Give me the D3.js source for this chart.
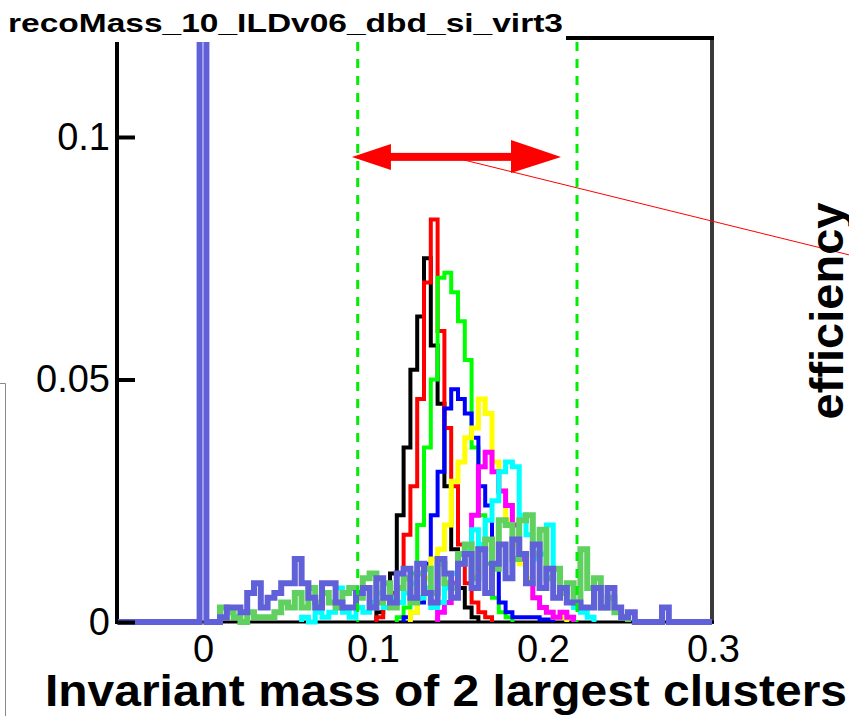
<!DOCTYPE html>
<html>
<head>
<meta charset="utf-8">
<script src="https://cdn.jsdelivr.net/npm/d3@7"></script>
<style>
  body { margin: 0; background: #fff; }
  svg { display: block; font-family: "Liberation Sans", Arial, sans-serif; }
</style>
</head>
<body>
<div id="chart"></div>
<script>
// histogram bins: width 0.004, each series = first bin centre + list of contents
const binWidth = 0.004;

const blackStart = 0.104;
const blackVals = [0.002, 0.005, 0.010, 0.022, 0.036, 0.052, 0.063, 0.075, 0.057, 0.045, 0.028, 0.015, 0.007, 0.003, 0.001];

const redStart = 0.104;
const redVals = [0.001, 0.003, 0.006, 0.010, 0.018, 0.028, 0.046, 0.070, 0.083, 0.060, 0.040, 0.028, 0.016, 0.008, 0.004, 0.002, 0.001];

const greenStart = 0.116;
const greenVals = [0.001, 0.003, 0.010, 0.020, 0.036, 0.050, 0.071, 0.072, 0.068, 0.062, 0.054, 0.036, 0.022, 0.012, 0.005, 0.002, 0.001];

const blueStart = 0.120;
const blueVals = [0.001, 0.002, 0.004, 0.012, 0.022, 0.031, 0.044, 0.048, 0.046, 0.043, 0.038, 0.028, 0.024, 0.012, 0.004, 0.002, 0.001, 0.001, 0.001, 0.001, 0.0005, 0.0005];

const yellowStart = 0.124;
const yellowVals = [0.002, 0.005, 0.009, 0.013, 0.015, 0.020, 0.029, 0.033, 0.038, 0.040, 0.046, 0.043, 0.033, 0.027, 0.021, 0.016, 0.012, 0.009, 0.005, 0.003, 0.002, 0.001, 0.001];

const magentaStart = 0.140;
const magentaVals = [0.002, 0.004, 0.008, 0.012, 0.016, 0.022, 0.032, 0.035, 0.031, 0.027, 0.024, 0.020, 0.013, 0.008, 0.005, 0.003, 0.002, 0.001, 0.002, 0.001];

const cyanStart = 0.060;
const cyanVals = [0.001, 0.000, 0.002, 0.001, 0.002, 0.007, 0.002, 0.001, 0.003, 0.002, 0.004, 0.006, 0.003, 0.005, 0.004, 0.006, 0.008, 0.005, 0.007,
  0.003, 0.004, 0.007, 0.010, 0.012, 0.015, 0.019, 0.016, 0.021, 0.025, 0.031, 0.033, 0.032, 0.022, 0.018, 0.013, 0.014, 0.020, 0.011, 0.007, 0.004, 0.003, 0.002, 0.001];

const lgreenStart = 0.012;
const lgreenVals = [0.003, 0.002, 0.001, 0, 0.002, 0.001, 0.001, 0.001, 0.002, 0.004,
  0.003, 0.006, 0.003, 0.007, 0.004, 0.006, 0.004, 0.003, 0.006, 0.007,
  0.005, 0.009, 0.010, 0.004, 0.008, 0.003, 0.007, 0.009, 0.004, 0.010,
  0.011, 0.006, 0.012, 0.008, 0.007, 0.014, 0.016, 0.009, 0.015, 0.017,
  0.011, 0.021, 0.020, 0.013, 0.021, 0.022, 0.014, 0.019, 0.009, 0.011,
  0.006, 0.008, 0.004, 0.015, 0.007, 0.009, 0.003, 0.005, 0.002, 0.001];

const purpleStart = 0.000;
const purpleVals = [0.5, 0, 0, 0.001, 0.003, 0.003, 0.002, 0.006, 0.008, 0.003,
  0.005, 0.006, 0.008, 0.008, 0.013, 0.008, 0.005, 0.003, 0.008, 0.008,
  0.004, 0.003, 0.003, 0.006, 0.007, 0.003, 0.009, 0.005, 0.004, 0.010,
  0.011, 0.005, 0.012, 0.006, 0.004, 0.013, 0.010, 0.005, 0.012, 0.014,
  0.007, 0.015, 0.006, 0.012, 0.016, 0.009, 0.017, 0.014, 0.008, 0.016,
  0.007, 0.011, 0.005, 0.007, 0.004, 0.004, 0.003, 0.003, 0.007, 0.003,
  0.007, 0.003, 0.001, 0.002, 0, 0, 0, 0, 0.003];

const xTicks = [0, 0.1, 0.2, 0.3];
const yTicks = [0, 0.05, 0.1];
const cuts = [0.091, 0.22];
const arrowSpan = [0.0876, 0.2106], arrowLevel = 0.0959;
const linkFrom = [0.153, 0.0953], linkTo = [0.380, 0.0757];

const title = "recoMass_10_ILDv06_dbd_si_virt3";
const xTitle = "Invariant mass of 2 largest clusters";
const sideTitle = "efficiency";

let W = 849, H = 716;
let frame = {left: 118, right: 713, top: 38, bottom: 622};

let x = d3.scaleLinear().domain([-0.05, 0.3]).range([frame.left, frame.right]);
let y = d3.scaleLinear().domain([0, 0.12041]).range([frame.bottom, frame.top]);

let svg = d3.select("#chart").append("svg")
    .attr("width", W).attr("height", H);

svg.append("defs").append("clipPath").attr("id", "plotclip")
  .append("rect")
    .attr("x", frame.left).attr("y", frame.top)
    .attr("width", 712 - frame.left).attr("height", frame.bottom - frame.top + 3);

// frame
svg.append("line").attr("x1", 117).attr("x2", 117).attr("y1", frame.top).attr("y2", frame.bottom + 2)
    .attr("stroke", "#000").attr("stroke-width", 4);
svg.append("line").attr("x1", 712).attr("x2", 712).attr("y1", frame.top - 2).attr("y2", frame.bottom + 2)
    .attr("stroke", "#3a3a3a").attr("stroke-width", 4);
svg.append("line").attr("x1", 117).attr("x2", 714).attr("y1", frame.top).attr("y2", frame.top)
    .attr("stroke", "#000").attr("stroke-width", 4);
svg.append("line").attr("x1", 117).attr("x2", 714).attr("y1", frame.bottom).attr("y2", frame.bottom)
    .attr("stroke", "#000").attr("stroke-width", 3);

let stepPoints = function(start, vals, full) {
    let pts = [];
    let first = start - binWidth / 2;
    let last = start + (vals.length - 1) * binWidth + binWidth / 2;
    if (full) pts.push([x.domain()[0], 0]);
    pts.push([first, 0]);
    vals.forEach((v, i) => {
        let c = start + i * binWidth;
        pts.push([c - binWidth / 2, v]);
        pts.push([c + binWidth / 2, v]);
    });
    pts.push([last, 0]);
    if (full) pts.push([x.domain()[1], 0]);
    return pts;
};

let line = d3.line().x(d => x(d[0])).y(d => y(d[1]));

let series = [
    {start: blackStart, vals: blackVals, color: "#000000", w: 4},
    {start: redStart, vals: redVals, color: "#ff0000", w: 4},
    {start: greenStart, vals: greenVals, color: "#00ff00", w: 4},
    {start: blueStart, vals: blueVals, color: "#0000ff", w: 4},
    {start: yellowStart, vals: yellowVals, color: "#ffff00", w: 5},
    {start: magentaStart, vals: magentaVals, color: "#ff00ff", w: 5},
    {start: cyanStart, vals: cyanVals, color: "#00ffff", w: 5},
    {start: lgreenStart, vals: lgreenVals, color: "#60d060", w: 6},
    {start: purpleStart, vals: purpleVals, color: "#6060d8", w: 6, full: true}
];

let plot = svg.append("g").attr("clip-path", "url(#plotclip)");
plot.selectAll("path.hist")
    .data(series)
    .enter()
    .append("path")
        .attr("class", "hist")
        .attr("d", d => line(stepPoints(d.start, d.vals, d.full)))
        .attr("fill", "none")
        .attr("stroke", d => d.color)
        .attr("stroke-width", d => d.w)
        .attr("stroke-linejoin", "miter");

// selection cuts
svg.selectAll("line.cut")
    .data(cuts)
    .enter()
    .append("line")
        .attr("class", "cut")
        .attr("x1", d => x(d)).attr("x2", d => x(d))
        .attr("y1", frame.top + 4).attr("y2", frame.bottom)
        .attr("stroke", "#00ee00")
        .attr("stroke-width", 3)
        .attr("stroke-dasharray", "9,8");

// double arrow
let ax0 = x(arrowSpan[0]), ax1 = x(arrowSpan[1]), ay = y(arrowLevel);
svg.append("rect")
    .attr("x", ax0 + 30).attr("y", ay - 4)
    .attr("width", ax1 - ax0 - 70).attr("height", 8)
    .attr("fill", "#ff0000");
svg.append("path")
    .attr("d", `M${ax0},${ay} L${ax0 + 39},${ay - 13} L${ax0 + 39},${ay + 13} Z`)
    .attr("fill", "#ff0000");
svg.append("path")
    .attr("d", `M${ax1},${ay} L${ax1 - 50},${ay - 17} L${ax1 - 50},${ay + 16} Z`)
    .attr("fill", "#ff0000");

svg.append("line")
    .attr("x1", x(linkFrom[0])).attr("y1", y(linkFrom[1]))
    .attr("x2", x(linkTo[0])).attr("y2", y(linkTo[1]))
    .attr("stroke", "#ff0000").attr("stroke-width", 1);

// axes
let yAxis = svg.append("g")
    .attr("transform", "translate(117,0)")
    .call(d3.axisLeft(y).tickValues(yTicks).tickSize(-18).tickPadding(7).tickFormat(d => d));
yAxis.select(".domain").remove();
yAxis.selectAll(".tick line").attr("stroke", "#000").attr("stroke-width", 4);
yAxis.selectAll(".tick text").attr("font-size", 38).attr("fill", "#000")
    .attr("font-family", "Liberation Sans, Arial, sans-serif");

let xAxis = svg.append("g")
    .attr("transform", `translate(0,${frame.bottom})`)
    .call(d3.axisBottom(x).tickValues(xTicks).tickSize(0).tickPadding(13).tickFormat(d => d));
xAxis.select(".domain").remove();
xAxis.selectAll(".tick text").attr("font-size", 38).attr("fill", "#000")
    .attr("font-family", "Liberation Sans, Arial, sans-serif");

// title box
svg.append("rect").attr("x", 0).attr("y", 0).attr("width", 566).attr("height", 42).attr("fill", "#fff");
svg.append("text")
    .attr("x", 8).attr("y", 32)
    .attr("font-size", 25)
    .attr("font-weight", "bold")
    .attr("textLength", 555)
    .attr("lengthAdjust", "spacingAndGlyphs")
    .text(title);

svg.append("text")
    .attr("x", 45).attr("y", 706)
    .attr("font-size", 44)
    .attr("font-weight", "bold")
    .attr("textLength", 802)
    .attr("lengthAdjust", "spacingAndGlyphs")
    .text(xTitle);

svg.append("text")
    .attr("transform", "translate(843,311) rotate(-90)")
    .attr("text-anchor", "middle")
    .attr("font-size", 47)
    .attr("font-weight", "bold")
    .text(sideTitle);

// leftover box edge at the left
svg.append("path")
    .attr("d", "M0,383.5 H5.5 V716")
    .attr("fill", "none")
    .attr("stroke", "#888")
    .attr("stroke-width", 1);
</script>
</body>
</html>
